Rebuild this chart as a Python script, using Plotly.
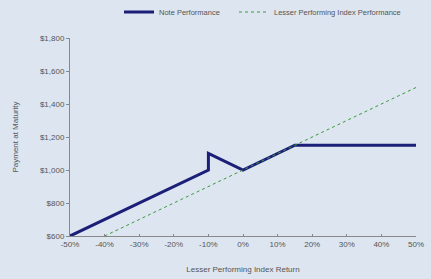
import plotly.graph_objects as go

# Data
note_x = [-50, -10, -10, 0, 15, 50]
note_y = [600, 1000, 1100, 1000, 1150, 1150]
index_x = [-40, 50]
index_y = [600, 1500]

x_tickvals = [-50, -40, -30, -20, -10, 0, 10, 20, 30, 40, 50]
x_ticktext = ["-50%", "-40%", "-30%", "-20%", "-10%", "0%", "10%", "20%", "30%", "40%", "50%"]
y_tickvals = [600, 800, 1000, 1200, 1400, 1600, 1800]
y_ticktext = ["$600", "$800", "$1,000", "$1,200", "$1,400", "$1,600", "$1,800"]

bg = "#dde5f0"
txt = "#555555"

fig = go.Figure()
fig.add_trace(go.Scatter(x=note_x, y=note_y, mode="lines", name="Note Performance",
                         line=dict(color="#1b1f78", width=3), legend="legend"))
fig.add_trace(go.Scatter(x=index_x, y=index_y, mode="lines",
                         name="Lesser Performing Index Performance",
                         line=dict(color="#3a9a3a", width=1, dash="dot"), legend="legend2"))

leg_common = dict(orientation="h", xref="container", xanchor="left",
                  yref="container", y=(279 - 12) / 279, yanchor="middle",
                  font=dict(size=7.5, color=txt), bgcolor="rgba(0,0,0,0)",
                  itemwidth=30)

fig.update_layout(
    width=431, height=279,
    paper_bgcolor=bg, plot_bgcolor=bg,
    margin=dict(l=70, r=15, t=38, b=43, autoexpand=False),
    font=dict(family="Liberation Sans, Arial, sans-serif", size=8, color=txt),
    showlegend=True,
    legend=dict(x=119 / 431, **leg_common),
    legend2=dict(x=234 / 431, **leg_common),
    xaxis=dict(range=[-50, 50], tickvals=x_tickvals, ticktext=x_ticktext,
               showgrid=False, zeroline=False, showline=True, linecolor="#888888",
               linewidth=1, ticks="inside", ticklen=2, tickcolor="#888888",
               automargin=False,
               title=dict(text="Lesser Performing Index Return", font=dict(size=8, color=txt),
                          standoff=18)),
    yaxis=dict(range=[600, 1800], tickvals=y_tickvals, ticktext=y_ticktext,
               showgrid=False, zeroline=False, showline=True, linecolor="#888888",
               linewidth=1, ticks="outside", ticklen=3, tickcolor="#888888",
               automargin=False,
               title=dict(text="Payment at Maturity", font=dict(size=8, color=txt),
                          standoff=20)),
)

fig.write_html("out.html", config={"displayModeBar": False},
               post_script="document.body.style.margin='0';document.body.style.background='#dde5f0';")
